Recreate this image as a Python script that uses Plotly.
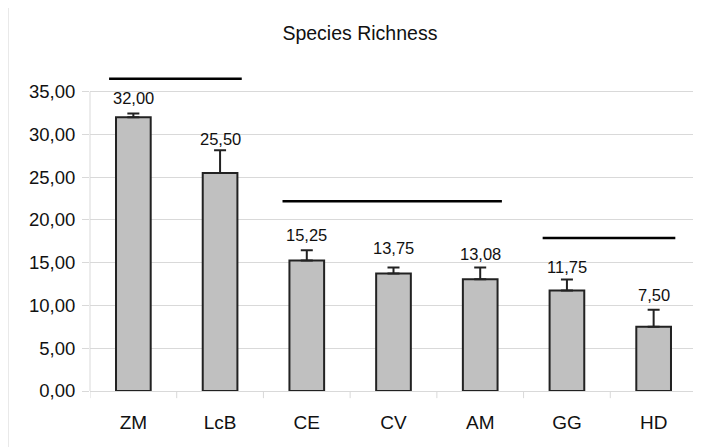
import plotly.graph_objects as go

# data
sites = ["ZM", "LcB", "CE", "CV", "AM", "GG", "HD"]
richness = [32.00, 25.50, 15.25, 13.75, 13.08, 11.75, 7.50]
std_err = [0.45, 2.65, 1.2, 0.7, 1.35, 1.3, 2.0]
y_ticks = [0, 5, 10, 15, 20, 25, 30, 35]

# homogeneous groups (first index, last index, height of the bar line)
groups = [(0, 1, 36.5), (2, 4, 22.2), (5, 6, 17.9)]

# per-label vertical nudge in px (labels were placed by hand in the original)
label_shift = [4, 0, 4, 8, 3, 1, 4]

font = "Liberation Sans, Arial, sans-serif"
grid = "#d9d9d9"

fig = go.Figure()
fig.add_trace(go.Bar(
    x=list(range(len(sites))),
    y=richness,
    width=0.4,
    marker=dict(color="#c0c0c0", line=dict(color="#222222", width=2)),
    error_y=dict(type="data", symmetric=False, array=std_err,
                 arrayminus=[0] * len(std_err),
                 color="#222222", thickness=2, width=6),
    hoverinfo="skip",
))

for i, (v, e) in enumerate(zip(richness, std_err)):
    fig.add_annotation(
        x=i, y=v + e, yanchor="bottom", yshift=label_shift[i],
        text=f"{v:.2f}".replace(".", ","), showarrow=False,
        font=dict(size=16.5, color="#111111", family=font),
    )

for a, b, h in groups:
    fig.add_shape(type="line", xref="x", yref="y",
                  x0=a - 0.28, x1=b + 0.25, y0=h, y1=h,
                  line=dict(color="black", width=2.5))

# value axis line only up to the last tick
fig.add_shape(type="line", xref="paper", yref="y", x0=0, x1=0,
              y0=0, y1=y_ticks[-1], line=dict(color=grid, width=1))
# faint chart frame on the left
fig.add_shape(type="line", xref="paper", yref="paper", x0=-0.135, x1=-0.135,
              y0=-0.3, y1=1.3, line=dict(color="#e4e4e4", width=1.5))

# category separator ticks on the x axis
for k in range(len(sites) + 1):
    fig.add_shape(type="line", xref="x", yref="paper",
                  x0=k - 0.5, x1=k - 0.5, y0=0, y1=-0.022,
                  line=dict(color=grid, width=1))

fig.update_layout(
    width=701, height=447,
    margin=dict(l=82, r=12, t=58, b=64),
    paper_bgcolor="white", plot_bgcolor="white",
    separators=",.",
    showlegend=False,
    title=dict(text="Species Richness", x=0.502, xref="container",
               y=0.944, yref="container", xanchor="center", yanchor="middle",
               font=dict(size=19.5, color="#111111", family=font)),
    font=dict(family=font, color="#111111"),
    xaxis=dict(
        tickmode="array", tickvals=list(range(len(sites))), ticktext=sites,
        range=[-0.5, len(sites) - 0.5],
        showline=True, linecolor=grid, linewidth=1,
        showgrid=False, zeroline=False,
        ticks="", tickfont=dict(size=19), ticklabelstandoff=14,
    ),
    yaxis=dict(
        range=[0, 38], tickvals=y_ticks, tickformat=".2f",
        showgrid=True, gridcolor=grid, gridwidth=1,
        zeroline=False, showline=False,
        ticks="outside", ticklen=7, tickcolor=grid,
        tickfont=dict(size=18.5), ticklabelstandoff=3,
    ),
)

fig.write_html("out.html")
